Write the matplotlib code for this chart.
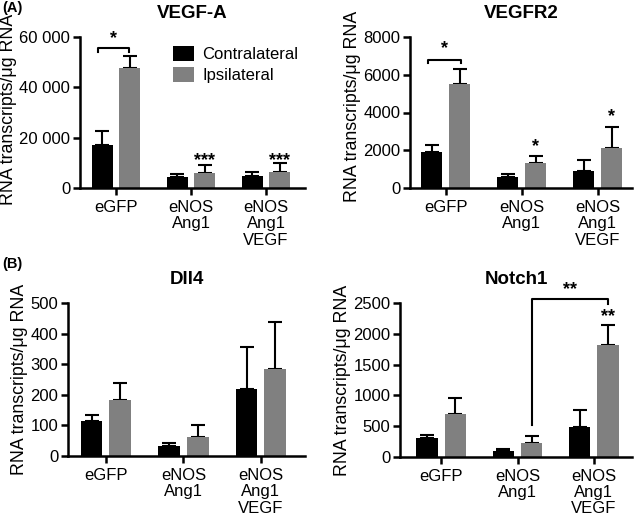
import matplotlib
matplotlib.use("Agg")
import matplotlib.pyplot as plt
import numpy as np

plt.rcParams['font.family'] = ['Liberation Sans', 'DejaVu Sans']

groups = ["eGFP", "eNOS\nAng1", "eNOS\nAng1\nVEGF"]
series = ["Contralateral", "Ipsilateral"]
colors = ["#000000", "#808080"]

vegfa_contra = [17000, 4200, 4900]
vegfa_contra_err = [5800, 1200, 1300]
vegfa_ipsi = [47500, 5800, 6200]
vegfa_ipsi_err = [5000, 3300, 3800]

vegfr2_contra = [1890, 600, 920]
vegfr2_contra_err = [390, 140, 560]
vegfr2_ipsi = [5490, 1300, 2130]
vegfr2_ipsi_err = [810, 410, 1120]

dll4_contra = [115, 34, 221]
dll4_contra_err = [19, 10, 137]
dll4_ipsi = [185, 61, 284]
dll4_ipsi_err = [55, 41, 155]

notch1_contra = [300, 98, 489]
notch1_contra_err = [50, 22, 272]
notch1_ipsi = [691, 228, 1820]
notch1_ipsi_err = [260, 109, 326]

W, H = 635, 519
fig = plt.figure(figsize=(W / 100, H / 100), dpi=100)


def rect(x0, x1, ytop, ybot):
    return [x0 / W, 1 - ybot / H, (x1 - x0) / W, (ybot - ytop) / H]


def panel(r, title, c, ce, ip, ie, ymax, yticks, yticklabels, xlim, ylab_y=0.5):
    ax = fig.add_axes(r)
    x = np.arange(len(groups))
    bw = 0.28
    off = 0.185
    ax.bar(x - off, c, bw, color=colors[0], label=series[0], zorder=2)
    ax.bar(x + off, ip, bw, color=colors[1], label=series[1], zorder=2)
    ax.errorbar(x - off, c, yerr=[np.zeros(3), ce], fmt='none', ecolor='black',
                elinewidth=1.5, capsize=5, capthick=1.5, zorder=1, clip_on=False)
    ax.errorbar(x + off, ip, yerr=[np.zeros(3), ie], fmt='none', ecolor='black',
                elinewidth=1.5, capsize=5, capthick=1.5, zorder=1, clip_on=False)
    ax.set_xlim(*xlim)
    ax.set_ylim(0, ymax)
    ax.set_yticks(yticks)
    ax.set_yticklabels(yticklabels, fontsize=12)
    ax.set_xticks(x)
    ax.set_xticklabels(groups, fontsize=12, linespacing=1.12)
    for s in ['top', 'right']:
        ax.spines[s].set_visible(False)
    for s in ['left', 'bottom']:
        ax.spines[s].set_linewidth(1.8)
    ax.tick_params(axis='both', width=1.8, length=5, direction='out')
    ax.tick_params(axis='y', pad=2)
    ax.set_ylabel("RNA transcripts/μg RNA", fontsize=12.8, labelpad=1.5)
    ax.yaxis.label.set_y(ylab_y)
    ax.set_title(title, fontsize=13.5, fontweight='bold', pad=14)
    return ax


def star(ax, x, y, text):
    ax.text(x, y, text, ha='center', va='center', fontsize=13, fontweight='bold')


def bracket(ax, x0, x1, y, h, text, ty):
    ax.plot([x0, x0, x1, x1], [y - h, y, y, y - h], color='black', lw=1.5,
            clip_on=False)
    star(ax, (x0 + x1) / 2, ty, text)


ax1 = panel(rect(80, 305, 37, 188), "VEGF-A", vegfa_contra, vegfa_contra_err,
            vegfa_ipsi, vegfa_ipsi_err, 60000, [0, 20000, 40000, 60000],
            ["0", "20 000", "40 000", "60 000"], (-0.48, 2.52), ylab_y=0.52)
bracket(ax1, -0.24, 0.17, 55500, 1500, "*", 59500)
for i in [1, 2]:
    star(ax1, i + 0.185, 11000, "***")
ax1.legend(loc='upper left', bbox_to_anchor=(0.385, 0.985), frameon=False,
           fontsize=12, handlelength=1.25, handleheight=1.0, borderaxespad=0,
           labelspacing=0.3, handletextpad=0.5)

ax2 = panel(rect(410, 632, 37, 188), "VEGFR2", vegfr2_contra, vegfr2_contra_err,
            vegfr2_ipsi, vegfr2_ipsi_err, 8000, [0, 2000, 4000, 6000, 8000],
            ["0", "2000", "4000", "6000", "8000"], (-0.47, 2.45), ylab_y=0.54)
bracket(ax2, -0.23, 0.2, 6800, 200, "*", 7400)
star(ax2, 1 + 0.185, 2200, "*")
star(ax2, 2 + 0.185, 3800, "*")

ax3 = panel(rect(68, 305, 303.3, 456), "Dll4", dll4_contra, dll4_contra_err,
            dll4_ipsi, dll4_ipsi_err, 500, [0, 100, 200, 300, 400, 500],
            ["0", "100", "200", "300", "400", "500"], (-0.49, 2.57))

ax4 = panel(rect(400, 632, 303.3, 456.7), "Notch1", notch1_contra, notch1_contra_err,
            notch1_ipsi, notch1_ipsi_err, 2500, [0, 500, 1000, 1500, 2000, 2500],
            ["0", "500", "1000", "1500", "2000", "2500"], (-0.54, 2.5))
ax4.plot([1.185, 1.185, 2.185, 2.185], [515, 2575, 2575, 2490], color='black',
         lw=1.5, clip_on=False)
star(ax4, 1.685, 2720, "**")
star(ax4, 2.185, 2280, "**")

fig.text(2 / W, 1 - 8 / H, "(A)", fontsize=10.5, fontweight='bold', va='center', ha='left')
fig.text(2 / W, 1 - 264 / H, "(B)", fontsize=10.5, fontweight='bold', va='center', ha='left')

fig.savefig("out.png", dpi=100)
